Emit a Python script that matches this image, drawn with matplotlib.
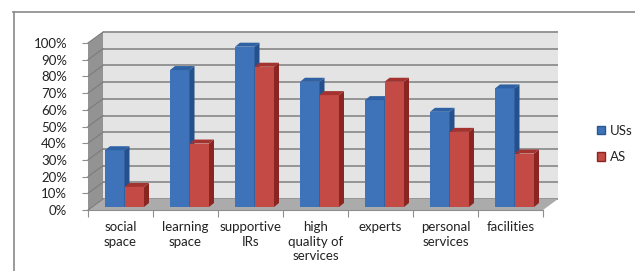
import matplotlib
matplotlib.use("Agg")
import matplotlib.pyplot as plt
from matplotlib.patches import Polygon, Rectangle, Patch
from matplotlib.transforms import ScaledTranslation
from matplotlib.lines import Line2D

categories = ["social\nspace", "learning\nspace", "supportive\nIRs",
              "high\nquality of\nservices", "experts", "personal\nservices",
              "facilities"]
uss = [34, 82, 96, 75, 64, 57, 71]
as_ = [12, 38, 84, 67, 75, 45, 32]
yticks = list(range(0, 101, 10))
ytick_labels = [f"{v}%" for v in yticks]
series_names = ["USs", "AS"]

W, H, DPI = 635, 271, 100
plt.rcParams['font.family'] = ['Lato', 'DejaVu Sans']
fig = plt.figure(figsize=(W / DPI, H / DPI), dpi=DPI)

# axes: data x 0..7 -> px 88..543, y 0..100 -> px 210..43
AX_L, AX_R, AX_B, AX_T = 88, 543, 210, 43
ax = fig.add_axes([AX_L / W, (H - AX_B) / H, (AX_R - AX_L) / W, (AX_B - AX_T) / H])
n = len(categories)
ax.set_xlim(0, n)
ax.set_ylim(0, 100)
pxx = (AX_R - AX_L) / n      # px per category unit
pxy = (AX_B - AX_T) / 100.0  # px per percent

def dx(px):
    return px / pxx

def dy(px):
    return px / pxy

def shift(px, py):
    return ax.transData + ScaledTranslation(px / DPI, py / DPI, fig.dpi_scale_trans)

DEPTH_X, DEPTH_Y = 15, 11
WALL = '#e4e4e4'
GRID = '#8e8e8e'

# back wall
ax.add_patch(Rectangle((0, 0), n, 100, transform=shift(DEPTH_X, DEPTH_Y),
                       facecolor=WALL, edgecolor='none', clip_on=False, zorder=0))
ax.hlines(yticks, 0, n, transform=shift(DEPTH_X, DEPTH_Y), colors=GRID,
          lw=1.3, clip_on=False, zorder=1)
# left side wall
ax.add_patch(Polygon([(0, 0), (0, 100), (dx(DEPTH_X), 100 + dy(DEPTH_Y)),
                      (dx(DEPTH_X), dy(DEPTH_Y))], closed=True,
                     facecolor='#939393', edgecolor='none', clip_on=False, zorder=1))
for v in yticks:
    ax.plot([0, dx(DEPTH_X)], [v, v + dy(DEPTH_Y)], color='#7c7c7c', lw=0.8,
            clip_on=False, zorder=1.5)
# floor
ax.add_patch(Polygon([(0, 0), (n, 0), (n + dx(DEPTH_X), dy(DEPTH_Y)),
                      (dx(DEPTH_X), dy(DEPTH_Y))], closed=True,
                     facecolor='#ababab', edgecolor='none', clip_on=False, zorder=1))

# bars
BX, BY = 4, 3          # bar front plane shift (px)
SX, SY = 5, 4          # bar depth (px)
bw = 0.3
start = 0.2
styles = [
    dict(front='#3f73b9', side='#24518c', top='#2f62a4'),
    dict(front='#c44a45', side='#8a2522', top='#a4332f'),
]
tr = shift(BX, BY)
for i in range(n):
    for s, vals in enumerate([uss, as_]):
        x0 = i + start + s * bw
        v = vals[i]
        st = styles[s]
        z = 3 + i * 0.1 + s * 0.01
        ax.bar([x0], [v], width=bw, align='edge', color=st['front'],
               transform=tr, zorder=z, clip_on=False, linewidth=0)
        ax.add_patch(Polygon([(x0 + bw, 0), (x0 + bw, v),
                              (x0 + bw + dx(SX), v + dy(SY)),
                              (x0 + bw + dx(SX), dy(SY))], closed=True,
                             facecolor=st['side'], edgecolor='none',
                             transform=tr, zorder=z, clip_on=False))
        ax.add_patch(Polygon([(x0, v), (x0 + bw, v),
                              (x0 + bw + dx(SX), v + dy(SY)),
                              (x0 + dx(SX), v + dy(SY))], closed=True,
                             facecolor=st['top'], edgecolor='none',
                             transform=tr, zorder=z, clip_on=False))

# axes styling
for side in ['top', 'right']:
    ax.spines[side].set_visible(False)
ax.spines['left'].set_visible(False)
ax.spines['bottom'].set_color('#8e8e8e')
ax.spines['bottom'].set_zorder(2)
ax.set_facecolor('none')
ax.set_yticks(yticks)
ax.set_yticklabels(ytick_labels)
ax.tick_params(axis='y', length=4, color='#8e8e8e', pad=11, labelsize=9.5,
               labelcolor='#222222')
ax.set_xticks(range(n + 1))
ax.set_xticklabels([''] * (n + 1))
ax.set_xticks([i + 0.5 for i in range(n)], minor=True)
ax.set_xticklabels(categories, minor=True)
ax.tick_params(axis='x', which='major', length=5, color='#8e8e8e')
ax.tick_params(axis='x', which='minor', length=0, pad=8, labelsize=9.5,
               labelcolor='#222222')
for lab in ax.get_xticklabels(minor=True):
    lab.set_linespacing(1.25)

# legend
handles = [Patch(facecolor=styles[0]['front'], edgecolor='#2a5790'),
           Patch(facecolor=styles[1]['front'], edgecolor='#8a2522')]
fig.legend(handles, series_names, loc='center left',
           bbox_to_anchor=(597 / W, (H - 144) / H), frameon=False,
           borderpad=0, borderaxespad=0,
           fontsize=9.5, handlelength=0.6, handleheight=0.6, handletextpad=0.4,
           labelspacing=1.1, labelcolor='#222222')

# chart border (partially visible)
fig.add_artist(Line2D([13.5 / W, 13.5 / W], [0, (H - 12) / H], color='#8a8a8a', lw=1.2))
fig.add_artist(Line2D([13 / W, 1], [(H - 12) / H, (H - 12) / H], color='#8a8a8a', lw=1.2))

fig.savefig('out.png', dpi=DPI)
